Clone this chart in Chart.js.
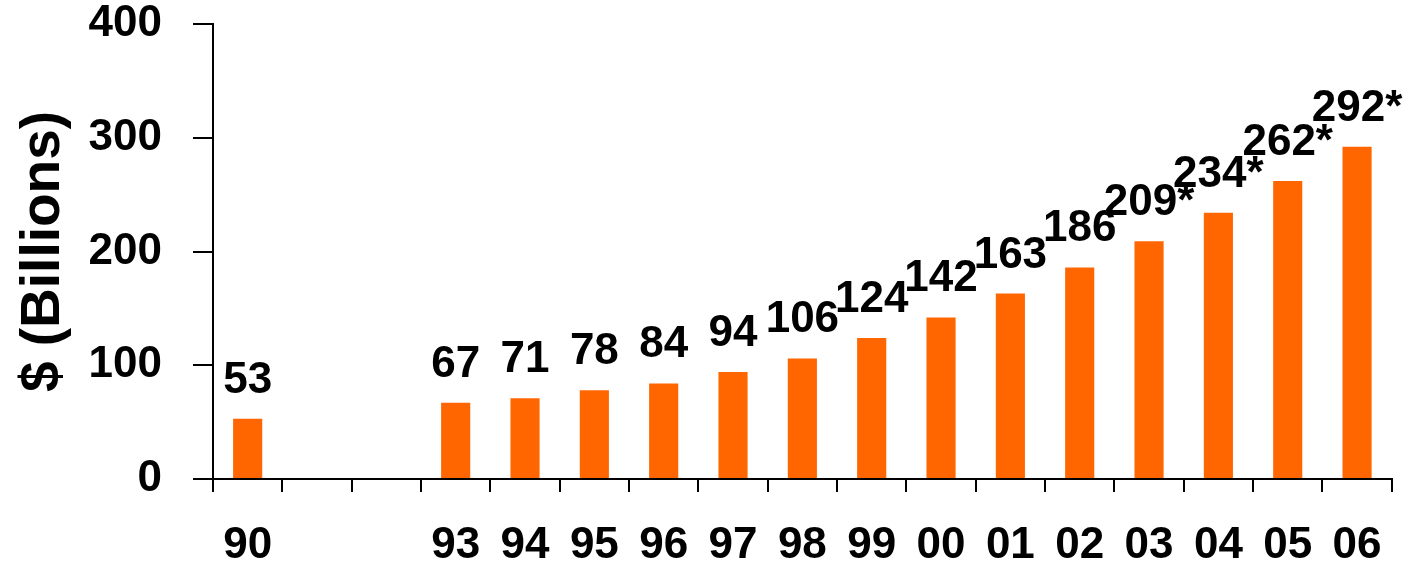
<!DOCTYPE html>
<html>
<head>
<meta charset="utf-8">
<style>
  html, body { margin: 0; padding: 0; background: #fff; }
  #wrap { width: 1409px; height: 567px; }
</style>
<script src="https://cdn.jsdelivr.net/npm/chart.js"></script>
</head>
<body>
<div id="wrap"><canvas id="spendChart" width="1409" height="567"></canvas></div>
<script>
// yearly values, $ billions (91 and 92 have no bar)
const years = ['90', '', '', '93', '94', '95', '96', '97', '98', '99', '00', '01', '02', '03', '04', '05', '06'];
const spending = [53, null, null, 67, 71, 78, 84, 94, 106, 124, 142, 163, 186, 209, 234, 262, 292];
// projected years get a trailing asterisk on the label
const projected = [false, false, false, false, false, false, false, false, false, false, false, false, false, true, true, true, true];
const yTicks = [0, 100, 200, 300, 400];

const FONT = '"Liberation Sans", Arial, sans-serif';

// value labels above each bar
const barLabels = {
    id: 'barLabels',
    afterDatasetsDraw(chart) {
        const ctx = chart.ctx;
        const meta = chart.getDatasetMeta(0);
        ctx.save();
        ctx.font = 'bold 44px ' + FONT;
        ctx.fillStyle = '#000';
        ctx.textAlign = 'center';
        ctx.textBaseline = 'alphabetic';
        meta.data.forEach((bar, i) => {
            const v = spending[i];
            if (v == null) return;
            ctx.fillText(v + (projected[i] ? '*' : ''), bar.x, bar.y - 26);
        });
        ctx.restore();
    }
};

document.addEventListener('DOMContentLoaded', function () {
    const ctx = document.getElementById('spendChart').getContext('2d');

    new Chart(ctx, {
        type: 'bar',
        data: {
            labels: years,
            datasets: [{
                data: spending,
                backgroundColor: '#FF6600',
                borderWidth: 0,
                categoryPercentage: 1.0,
                barPercentage: 0.42
            }]
        },
        options: {
            responsive: false,
            animation: false,
            layout: { padding: { top: 0, right: 16, left: 0, bottom: 0 } },
            plugins: {
                legend: { display: false },
                tooltip: { enabled: false }
            },
            scales: {
                x: {
                    grid: {
                        offset: true,
                        drawOnChartArea: false,
                        drawTicks: true,
                        tickLength: 13,
                        tickColor: '#000',
                        lineWidth: 2
                    },
                    border: { color: '#000', width: 2 },
                    ticks: {
                        color: '#000',
                        font: { family: FONT, size: 44, weight: 'bold' },
                        padding: 27,
                        maxRotation: 0,
                        autoSkip: false
                    },
                    afterFit(scale) { scale.height = 88; }
                },
                y: {
                    min: 0,
                    max: 400,
                    afterBuildTicks(scale) { scale.ticks = yTicks.map(v => ({ value: v })); },
                    grid: {
                        drawOnChartArea: false,
                        drawTicks: true,
                        tickLength: 20,
                        tickColor: '#000',
                        lineWidth: 2
                    },
                    border: { color: '#000', width: 2 },
                    ticks: {
                        color: '#000',
                        font: { family: FONT, size: 44, weight: 'bold' },
                        padding: 31
                    },
                    title: {
                        display: true,
                        text: '$ (Billions)',
                        color: '#000',
                        font: { family: FONT, size: 55, weight: 'bold' },
                        padding: { top: 11, bottom: 0 }
                    },
                    afterFit(scale) {
                        // fixed axis width and a tight top edge for the plot
                        scale.width = 213;
                        scale.paddingTop = 24;
                        scale.paddingBottom = 0;
                    }
                }
            }
        },
        plugins: [barLabels]
    });
});
</script>
</body>
</html>
